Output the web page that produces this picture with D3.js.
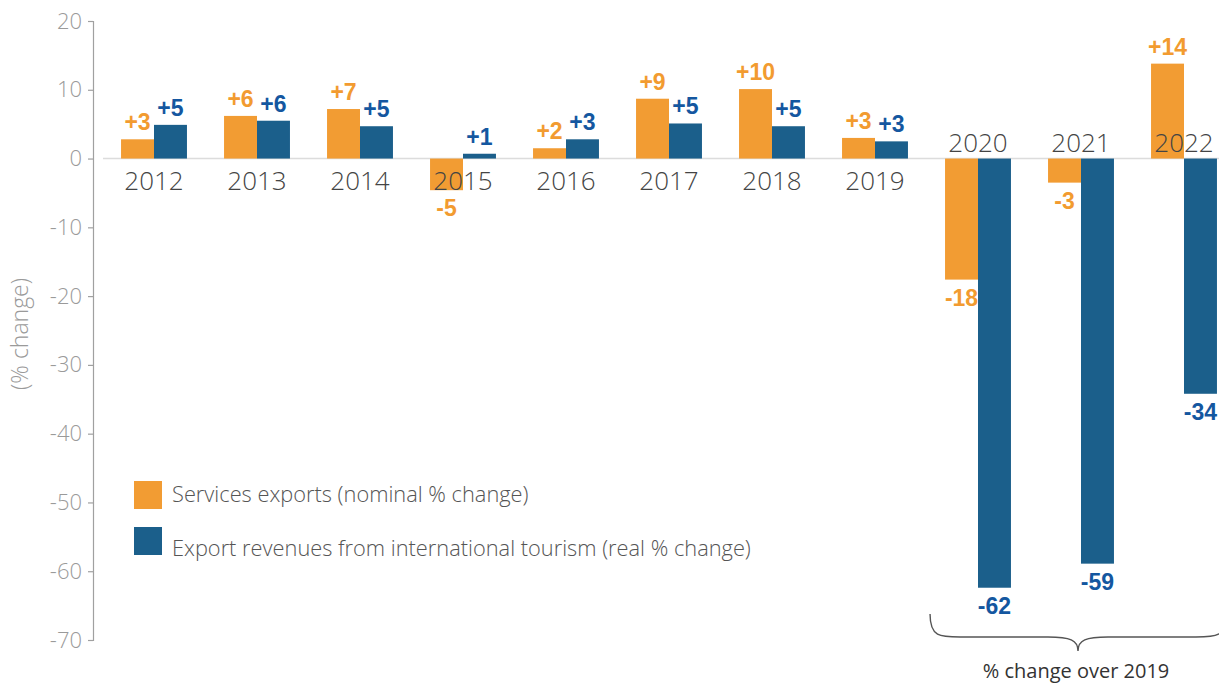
<!DOCTYPE html>
<html>
<head>
<meta charset="utf-8">
<script src="https://cdn.jsdelivr.net/npm/d3@7"></script>
<style>
  html, body { margin: 0; padding: 0; background: #fff; }
  svg { display: block; }
  text { font-family: "Open Sans", "Liberation Sans", sans-serif; }
</style>
</head>
<body>
<svg id="chart" width="1219" height="683"></svg>
<script>
// ---- data ----
const years = ["2012","2013","2014","2015","2016","2017","2018","2019","2020","2021","2022"];
const servicesValues = [2.8, 6.2, 7.2, -4.6, 1.5, 8.7, 10.1, 3.0, -17.6, -3.5, 13.8];
const tourismValues  = [4.9, 5.5, 4.7, 0.7, 2.8, 5.1, 4.7, 2.5, -62.4, -58.9, -34.2];
const servicesLabels = ["+3","+6","+7","-5","+2","+9","+10","+3","-18","-3","+14"];
const tourismLabels  = ["+5","+6","+5","+1","+3","+5","+5","+3","-62","-59","-34"];
const yTicks = [20, 10, 0, -10, -20, -30, -40, -50, -60, -70];
const seriesNames = ["Services exports (nominal % change)", "Export revenues from international tourism (real % change)"];
const seriesKeys = ["services", "tourism"];
const aboveAxisYears = ["2020","2021","2022"];
const braceLabel = "% change over 2019";
const yTitle = "(% change)";

// ---- styles ----
const barColors = { services: "#f29c33", tourism: "#1b5f8b" };
const labelColors = { services: "#f29b30", tourism: "#1457a0" };
const lightFont = "'Open Sans', sans-serif";
const boldFont = "'Liberation Sans', Arial, sans-serif";

const svg = d3.select("#chart");

const x = d3.scaleBand().domain(years).range([102.5, 1235.5]).paddingInner(0.36).paddingOuter(0.18);
const xs = d3.scaleBand().domain(seriesKeys).range([0, x.bandwidth()]).padding(0);
const y = d3.scaleLinear().domain([-70, 20]).range([640, 21]);

// zero line
svg.append("line")
  .attr("x1", 103).attr("x2", 1219)
  .attr("y1", y(0)).attr("y2", y(0))
  .attr("stroke", "#dcdcdc").attr("stroke-width", 1.5);

// y axis
const yAxis = d3.axisLeft(y).tickValues(yTicks).tickSize(5).tickPadding(6).tickFormat(d => String(d));
const gy = svg.append("g").attr("transform", "translate(93,0)").call(yAxis);
gy.select(".domain").attr("stroke", "#a0a0a0").attr("stroke-width", 1.2);
gy.selectAll(".tick line").attr("stroke", "#a0a0a0").attr("stroke-width", 1.2);
gy.selectAll(".tick text")
  .attr("fill", "#9a9a9a")
  .style("font-size", "22px")
  .style("font-weight", "300")
  .style("font-family", lightFont);

// y title
svg.append("text")
  .attr("transform", `translate(28, ${y(-25.5)}) rotate(-90)`)
  .attr("text-anchor", "middle")
  .attr("fill", "#9a9a9a")
  .style("font-size", "23px")
  .style("font-weight", "300")
  .style("font-family", lightFont)
  .text(yTitle);

// data rows
const rows = years.map((yr, i) => ({
  year: yr,
  services: servicesValues[i], tourism: tourismValues[i],
  servicesLabel: servicesLabels[i], tourismLabel: tourismLabels[i]
}));

const groups = svg.append("g").selectAll("g")
  .data(rows).join("g")
  .attr("transform", d => `translate(${x(d.year)},0)`);

groups.selectAll("rect")
  .data(d => seriesKeys.map(k => ({ key: k, value: d[k] })))
  .join("rect")
  .attr("x", d => xs(d.key))
  .attr("width", xs.bandwidth())
  .attr("y", d => y(Math.max(0, d.value)))
  .attr("height", d => Math.abs(y(d.value) - y(0)))
  .attr("fill", d => barColors[d.key]);

// category labels
svg.append("g").selectAll("text")
  .data(years).join("text")
  .attr("x", d => x(d) + x.bandwidth() / 2)
  .attr("y", d => aboveAxisYears.includes(d) ? y(0) - 7 : y(0) + 31)
  .attr("text-anchor", "middle")
  .attr("fill", "#444")
  .style("font-size", "26px")
  .style("font-weight", "300")
  .style("font-family", lightFont)
  .text(d => d);

// value labels
groups.selectAll("text.val")
  .data(d => seriesKeys.map(k => ({ key: k, value: d[k], label: d[k + "Label"] })))
  .join("text")
  .attr("class", "val")
  .attr("x", d => xs(d.key) + xs.bandwidth() / 2)
  .attr("y", d => d.value >= 0 ? y(d.value) - 9 : y(d.value) + 26)
  .attr("text-anchor", "middle")
  .attr("fill", d => labelColors[d.key])
  .style("font-size", "23px")
  .style("font-weight", "700")
  .style("font-family", boldFont)
  .text(d => d.label);

// legend
const legend = svg.append("g").attr("transform", "translate(134,481)");
seriesKeys.forEach((k, i) => {
  const g = legend.append("g").attr("transform", `translate(0, ${i * 46})`);
  g.append("rect").attr("width", 28).attr("height", 28).attr("fill", barColors[k]);
  g.append("text")
    .attr("x", 38).attr("y", 21 + i * 8)
    .attr("fill", "#555")
    .style("font-size", "21.8px")
    .style("font-weight", "300")
    .style("font-family", lightFont)
    .text(seriesNames[i]);
});

// brace
const bx0 = x("2020") - 15;
const bx1 = x("2022") + x.bandwidth() + 9;
const bm = (bx0 + bx1) / 2;
const by0 = 614, by1 = 637, by2 = 651;
const brace = d3.path();
brace.moveTo(bx0, by0);
brace.bezierCurveTo(bx0, by1, bx0 + 10, by1, bx0 + 30, by1);
brace.lineTo(bm - 30, by1);
brace.bezierCurveTo(bm - 8, by1, bm, by1 + 3, bm, by2);
brace.bezierCurveTo(bm, by1 + 3, bm + 8, by1, bm + 30, by1);
brace.lineTo(bx1 - 30, by1);
brace.bezierCurveTo(bx1 - 10, by1, bx1, by1, bx1, by0);
svg.append("path")
  .attr("d", brace.toString())
  .attr("fill", "none")
  .attr("stroke", "#555")
  .attr("stroke-width", 1.4);

svg.append("text")
  .attr("x", bm - 2).attr("y", 678)
  .attr("text-anchor", "middle")
  .attr("fill", "#333")
  .style("font-size", "20px")
  .style("font-weight", "500")
  .style("font-family", lightFont)
  .text(braceLabel);
</script>
</body>
</html>
